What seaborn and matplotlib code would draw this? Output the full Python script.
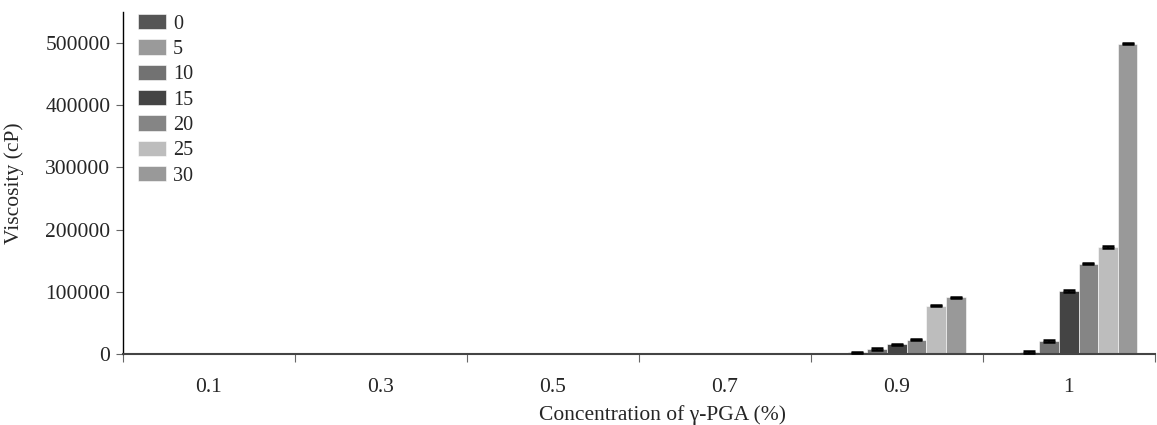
import numpy as np
import pandas as pd
import matplotlib
matplotlib.use("Agg")
import matplotlib.pyplot as plt
import seaborn as sns

concentrations = ["0.1", "0.3", "0.5", "0.7", "0.9", "1"]
series_names = ["0", "5", "10", "15", "20", "25", "30"]
v0 = [0, 0, 0, 0, 0, 0]
v5 = [0, 0, 0, 0, 2500, 3000]
v10 = [0, 0, 0, 0, 8000, 21000]
v15 = [0, 0, 0, 0, 15500, 101000]
v20 = [0, 0, 0, 0, 23000, 145500]
v25 = [0, 0, 0, 0, 78000, 172000]
v30 = [0, 0, 0, 0, 91000, 499000]
values = [v0, v5, v10, v15, v20, v25, v30]
colors = ["#555555", "#9a9a9a", "#727272", "#444444", "#858585", "#bdbdbd", "#999999"]

sns.set_theme(style="white")
plt.rcParams["font.family"] = ["Liberation Serif", "DejaVu Serif"]

rows = []
for s, vals in zip(series_names, values):
    for c, v in zip(concentrations, vals):
        rows.append({"conc": c, "series": s, "val": v})
df = pd.DataFrame(rows)

fig = plt.figure(figsize=(11.57, 4.25), dpi=100)
ax = fig.add_axes([0.1063, 0.167, 0.8917, 0.805])
sns.barplot(data=df, x="conc", y="val", hue="series", order=concentrations,
            hue_order=series_names, palette=colors, errorbar=None, ax=ax,
            width=0.8, edgecolor="white", linewidth=0.4, saturation=1)

# small error bars at the tops of visible bars
bar_containers = list(ax.containers)
for cont in bar_containers:
    for p in cont.patches:
        h = p.get_height()
        if h > 1000:
            ax.errorbar(p.get_x() + p.get_width() / 2, h, yerr=1200, fmt="none",
                        ecolor="black", elinewidth=1.2, capsize=4.5, capthick=1.8, zorder=5)

ax.set_ylim(0, 550000)
ax.set_xlim(-0.5, 5.5)
ax.set_yticks([0, 100000, 200000, 300000, 400000, 500000])
ax.set_yticklabels(["0", "100000", "200000", "300000", "400000", "500000"], fontsize=15.5)
ax.set_xticks(range(6))
ax.set_xticklabels(concentrations, fontsize=15.5)
ax.set_xticks(np.arange(-0.5, 6, 1), minor=True)
ax.tick_params(axis="x", which="major", length=0, pad=17)
ax.tick_params(axis="x", which="minor", length=6, width=0.8, color="#666666", direction="out", bottom=True)
ax.tick_params(axis="y", which="major", length=5, width=0.8, color="#666666", direction="out", left=True, pad=4)

for sp in ["top", "right"]:
    ax.spines[sp].set_visible(False)
ax.spines["left"].set_color("black")
ax.spines["left"].set_linewidth(1.0)
ax.spines["bottom"].set_color("#444444")
ax.spines["bottom"].set_linewidth(1.5)

ax.set_ylabel("Viscosity (cP)", fontsize=15.5)
ax.yaxis.set_label_coords(-0.0955, 0.5)
ax.set_xlabel("Concentration of γ-PGA (%)", fontsize=15.5)
ax.xaxis.set_label_coords(0.523, -0.15)

leg = ax.legend(bar_containers, series_names, loc="upper left", bbox_to_anchor=(0.0005, 1.035),
                frameon=False, fontsize=14.5, handlelength=1.4, handleheight=0.8,
                labelspacing=0.28, handletextpad=0.35, borderaxespad=0.3)
for h in leg.legend_handles:
    h.set_edgecolor("white")

fig.savefig("out.png", dpi=100)
